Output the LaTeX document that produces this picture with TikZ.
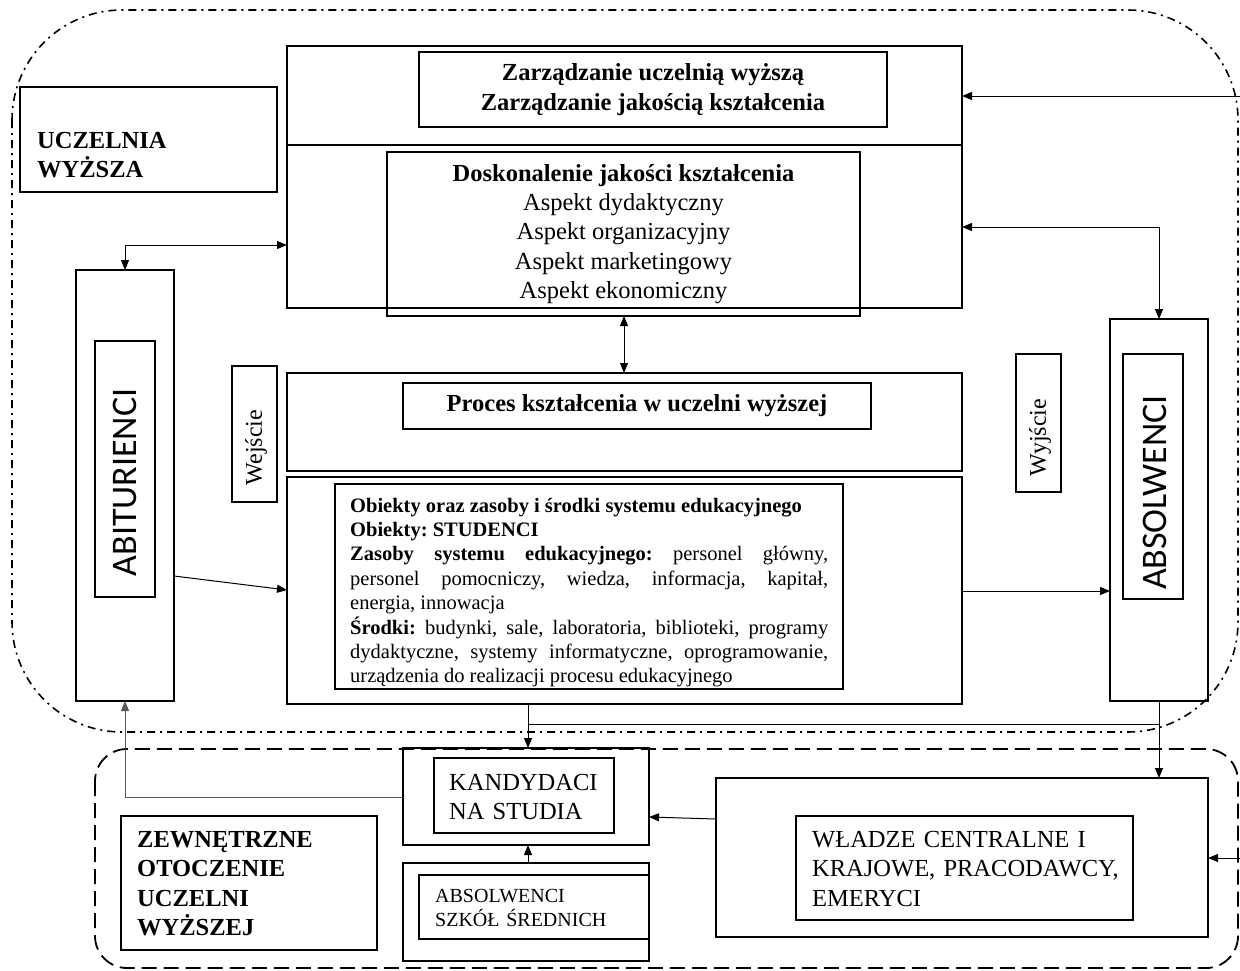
\documentclass[tikz,border=0pt]{standalone}
\usepackage{fontspec}
\setmainfont{Liberation Serif}
\newfontfamily\calib{Carlito}
\usetikzlibrary{arrows.meta}
\frenchspacing
\newcommand\jline[1]{\makebox[478pt][s]{\spaceskip=0pt\xspaceskip=0pt #1}}
\begin{document}
\begin{tikzpicture}[x=1pt,y=-1pt,
  box/.style={draw, line width=1.6pt, inner sep=0pt, outer sep=0pt, anchor=north west},
  conn/.style={line width=1pt},
  arr/.style={conn, -{Triangle[length=10pt,width=8pt]}},
  darr/.style={conn, {Triangle[length=10pt,width=8pt]}-{Triangle[length=10pt,width=8pt]}},
  bigf/.style={font=\fontsize{24.5}{29.3}\selectfont},
  bigb/.style={font=\fontsize{24.5}{29.5}\selectfont\bfseries},
  ltxt/.style={anchor=base west, inner sep=0pt, align=left},
  vert/.style={rotate=90, inner sep=0pt},
  sansv/.style={vert, font=\calib\fontsize{36}{40}\selectfont},
]
\useasboundingbox (0,0) rectangle (1240,970);
\fill[white] (0,0) rectangle (1240,970);

% ---- boundaries
\draw[line width=1.6pt, dash pattern=on 8pt off 5pt on 2pt off 5pt, rounded corners=110pt] (12,10) rectangle (1238,732);
\draw[line width=1.8pt, dash pattern=on 15pt off 7pt, rounded corners=32pt] (95,749) rectangle (1238,968);

% ---- top block
\node[box, minimum width=675pt, minimum height=99pt] (mgmt) at (287,46) {};
\node[box, minimum width=468pt, minimum height=75pt, bigb, align=center] (zarz) at (419,52)
  {Zarządzanie uczelnią wyższą\\Zarządzanie jakością kształcenia};
\node[box, minimum width=675pt, minimum height=163pt] (dosk) at (287,145) {};
\node[box, minimum width=473pt, minimum height=164pt, bigf, align=center] (doski) at (387,152)
  {\textbf{Doskonalenie jakości kształcenia}\\Aspekt dydaktyczny\\Aspekt organizacyjny\\Aspekt marketingowy\\Aspekt ekonomiczny};

% ---- uczelnia label
\node[box, minimum width=257pt, minimum height=105pt] (ucz) at (20,87) {};
\node[ltxt, text width=230pt, bigb] (uczt) at (37,148) {UCZELNIA\\WYŻSZA};

% ---- abiturienci
\node[box, minimum width=98pt, minimum height=431pt] (abit) at (76,270) {};
\node[box, minimum width=60pt, minimum height=256pt] (abiti) at (95,341) {};
\node[sansv] (abitt) at (124.5,482.5) {ABITURIENCI};

% ---- wejscie / wyjscie
\node[box, minimum width=45pt, minimum height=136pt] (wej) at (232,366) {};
\node[vert, font=\fontsize{24}{28}\selectfont] (wejt) at (256,447.5) {Wejście};
\node[box, minimum width=45pt, minimum height=138pt] (wyj) at (1016,354) {};
\node[vert, font=\fontsize{24}{28}\selectfont] (wyjt) at (1040,437.5) {Wyjście};

% ---- proces
\node[box, minimum width=675pt, minimum height=98pt] (proces) at (287,373) {};
\node[box, minimum width=468pt, minimum height=46pt, bigb] (procesi) at (403,383)
  {Proces kształcenia w uczelni wyższej};

% ---- objects
\node[box, minimum width=675pt, minimum height=227pt] (obj) at (287,477) {};
\node[box, minimum width=508pt, minimum height=205pt] (obji) at (335,484) {};
\node[anchor=base west, inner sep=0pt, text width=478pt, font=\fontsize{20.5}{24.4}\selectfont] (objt) at (350,512)
  {\spaceskip=0pt\xspaceskip=0pt
   \textbf{Obiekty oraz zasoby i środki systemu edukacyjnego}\\
   \textbf{Obiekty: STUDENCI}\\
   \jline{\textbf{Zasoby systemu edukacyjnego:} personel główny,}\\
   \jline{personel pomocniczy, wiedza, informacja, kapitał,}\\
   energia, innowacja\\
   \jline{\textbf{Środki:} budynki, sale, laboratoria, biblioteki, programy}\\
   \jline{dydaktyczne, systemy informatyczne, oprogramowanie,}\\
   urządzenia do realizacji procesu edukacyjnego};

% ---- absolwenci
\node[box, minimum width=98pt, minimum height=382pt] (absol) at (1110,319) {};
\node[box, minimum width=60pt, minimum height=245pt] (absoli) at (1123,354) {};
\node[sansv] (absolt) at (1154.5,492.5) {ABSOLWENCI};

% ---- bottom part
\node[box, minimum width=246pt, minimum height=97pt] (kand) at (403,748) {};
\node[box, minimum width=180pt, minimum height=75pt] (kandi) at (434,758) {};
\node[ltxt, text width=170pt, font=\fontsize{24.5}{29}\selectfont] (kandt) at (449,790) {KANDYDACI\\NA STUDIA};

\node[box, minimum width=246pt, minimum height=98pt] (abss) at (403,863) {};
\node[box, minimum width=230pt, minimum height=64pt] (abssi) at (419,875) {};
\node[ltxt, text width=200pt, font=\fontsize{20}{24}\selectfont] (abst) at (435,902) {ABSOLWENCI\\SZKÓŁ ŚREDNICH};

\node[box, minimum width=492pt, minimum height=159pt] (wladze) at (716,778) {};
\node[box, minimum width=337pt, minimum height=104pt] (wladzei) at (796,816) {};
\node[ltxt, text width=330pt, font=\fontsize{24.5}{29.5}\selectfont] (wladzet) at (812,847)
  {WŁADZE CENTRALNE I\\KRAJOWE, PRACODAWCY,\\EMERYCI};

\node[box, minimum width=256pt, minimum height=134pt] (zewn) at (121,816) {};
\node[ltxt, text width=230pt, bigb] (zewnt) at (137,847) {ZEWNĘTRZNE\\OTOCZENIE\\UCZELNI\\WYŻSZEJ};

% ---- connectors
\coordinate (rin1) at (1240,96);
\draw[arr] (rin1) -- (rin1 -| mgmt.east);
\draw[darr] (dosk.west |- 0,245) -| (abit.north);
\draw[darr] (dosk.east |- 0,227) -| (absol.north);
\draw[darr] (doski.south -| 624,0) -- (proces.north -| 624,0);
\draw[arr] (abit.east |- 0,576) -- (obj.west |- 0,590);
\draw[arr] (obj.east |- 0,591) -- (absol.west |- 0,591);
\draw[arr] (obj.south -| 528,0) -- (kand.north -| 528,0);
\coordinate (j1) at (528,724);
\draw[conn] (j1) -- (j1 -| absol.south);
\draw[arr] (absol.south) -- (wladze.north -| absol.south);
\draw[arr] (wladze.west |- 0,819) -- (kand.east |- 0,817);
\draw[arr] (abss.north -| 528,0) -- (kand.south -| 528,0);
\draw[arr, black!65] (kand.west |- 0,797) -| (abit.south);
\coordinate (rin2) at (1240,858);
\draw[arr] (rin2) -- (rin2 -| wladze.east);
\end{tikzpicture}
\end{document}
